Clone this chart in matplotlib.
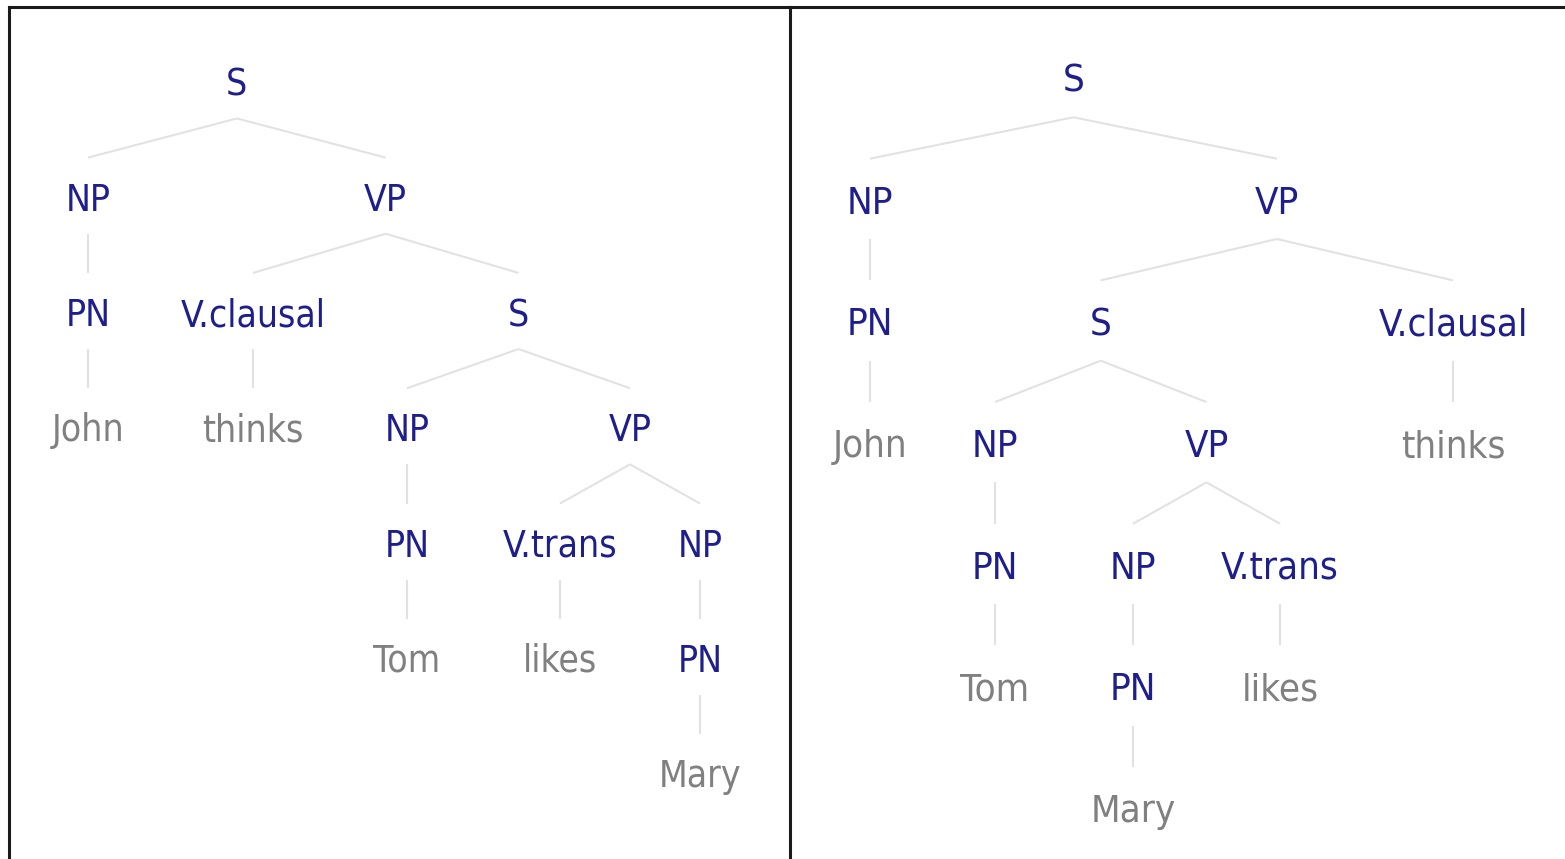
import matplotlib
matplotlib.use('Agg')
import matplotlib.pyplot as plt
from matplotlib import font_manager

# the labels in the picture are condensed: use a narrow face if one is installed
narrow = [f for f in font_manager.fontManager.ttflist
          if str(f.stretch) in ('condensed', 'semi-condensed', 'extra-condensed', '600', '700', '625', '750')
          or 'Narrow' in f.name or 'Condensed' in f.name]
narrow = [f for f in narrow if f.style == 'normal' and f.weight in (400, 'normal', 'regular')]
if narrow:
    FONT = [narrow[0].name, 'DejaVu Sans']
    STRETCH = narrow[0].stretch
    SCALE = 0.89
else:
    FONT = ['DejaVu Sans']
    STRETCH = 'normal'
    SCALE = 0.78

LABEL_COL = '#1e1e8c'
WORD_COL = '#808080'
EDGE_COL = '#e2e2e2'

# trees: (label, [children]) ; a plain string is a word (leaf)
left_tree = ('S', [('NP', [('PN', ['John'])]),
                   ('VP', [('V.clausal', ['thinks']),
                           ('S', [('NP', [('PN', ['Tom'])]),
                                  ('VP', [('V.trans', ['likes']),
                                          ('NP', [('PN', ['Mary'])])])])])])
right_tree = ('S', [('NP', [('PN', ['John'])]),
                    ('VP', [('S', [('NP', [('PN', ['Tom'])]),
                                   ('VP', [('NP', [('PN', ['Mary'])]),
                                           ('V.trans', ['likes'])])]),
                            ('V.clausal', ['thinks'])])])

# x of each word column, in order
left_cols = [88, 253, 407, 560, 700]
right_cols = [870, 995, 1133, 1280, 1453]

# first level y and step between levels
left_levels = (85, 115.3)
right_levels = (82, 121.7)


def layout(node, depth, cols, out):
    # returns x of node, fills out with (label, x, depth, is_word, child indices)
    if isinstance(node, str):
        x = cols.pop(0)
        out.append((node, x, depth, True, []))
        return x, len(out) - 1
    label, kids = node
    res = [layout(k, depth + 1, cols, out) for k in kids]
    xs = [r[0] for r in res]
    x = (min(xs) + max(xs)) / 2.0
    out.append((label, x, depth, False, [r[1] for r in res]))
    return x, len(out) - 1


def draw_tree(ax, tree, cols, levels, fs):
    nodes = []
    layout(tree, 0, list(cols), nodes)
    y0, dy = levels
    for label, x, d, word, kids in nodes:
        y = y0 + d * dy
        ax.text(x, y, label, ha='center', va='center', fontsize=fs * SCALE,
                color=WORD_COL if word else LABEL_COL, family=FONT,
                fontstretch=STRETCH)
        for k in kids:
            kx, kd = nodes[k][1], nodes[k][2]
            ky = y0 + kd * dy
            ax.plot([x, kx], [y + 0.29 * dy, ky - 0.37 * dy],
                    color=EDGE_COL, lw=1.5, solid_capstyle='butt')


fig = plt.figure(figsize=(15.65, 8.59), dpi=100)
W, H = 1565.0, 859.0

axl = fig.add_axes([9 / W, 0, (790 - 9) / W, (859 - 7) / H])
axr = fig.add_axes([790 / W, 0, (1565 - 790) / W, (859 - 7) / H])

for ax, x0, x1 in [(axl, 9, 790), (axr, 790, 1565)]:
    ax.set_xlim(x0, x1)
    ax.set_ylim(859, 7)
    ax.set_xticks([])
    ax.set_yticks([])
    for s in ['right', 'bottom']:
        ax.spines[s].set_visible(False)
    for s in ['left', 'top']:
        ax.spines[s].set_linewidth(2.2)
        ax.spines[s].set_color('#1a1a1a')

draw_tree(axl, left_tree, left_cols, left_levels, 30)
draw_tree(axr, right_tree, right_cols, right_levels, 31)

fig.savefig('out.png', dpi=100)
